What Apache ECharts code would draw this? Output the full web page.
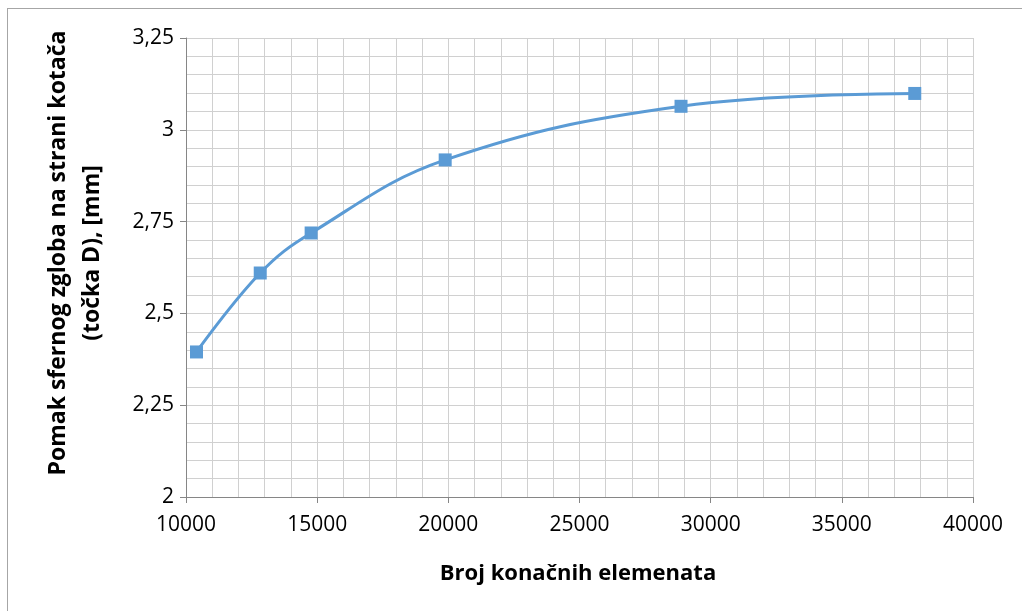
<!DOCTYPE html>
<html>
<head>
<meta charset="utf-8">
<script src="https://cdn.jsdelivr.net/npm/echarts@6/dist/echarts.min.js"></script>
<style>
html,body{margin:0;padding:0;background:#fff;}
#frame{position:absolute;left:7px;top:8px;right:-2px;bottom:-2px;border-left:1px solid #a6a6a6;border-top:1px solid #a6a6a6;}
#c{position:absolute;left:0;top:0;width:1022px;height:611px;}
</style>
</head>
<body>
<div id="frame"></div>
<div id="c"></div>
<script>
const elementCounts = [10400, 12830, 14770, 19880, 28870, 37780];
const displacement = [2.395, 2.610, 2.719, 2.918, 3.064, 3.099];
const xTitle = 'Broj konačnih elemenata';
const yTitleLines = ['Pomak sfernog zgloba na strani kotača', '(točka D), [mm]'];

const chart = echarts.init(document.getElementById('c'));
const gridGray = '#d0d0d0';
const axisGray = '#868686';
const fontFam = '"Open Sans", "Liberation Sans", sans-serif';

chart.setOption({
  animation: false,
  backgroundColor: 'transparent',
  grid: {left: 186, right: 49, top: 38, bottom: 114},
  xAxis: {
    type: 'value', min: 10000, max: 40000, interval: 5000,
    axisLine: {show: true, onZero: false, lineStyle: {color: axisGray, width: 1}},
    axisTick: {show: true, length: 6, lineStyle: {color: axisGray}},
    axisLabel: {color: '#000', fontSize: 21, fontFamily: fontFam, margin: 18,
      formatter: v => String(v)},
    splitLine: {show: true, lineStyle: {color: gridGray, width: 1}},
    minorTick: {show: false, splitNumber: 5},
    minorSplitLine: {show: true, lineStyle: {color: gridGray, width: 1}}
  },
  yAxis: {
    type: 'value', min: 2, max: 3.25, interval: 0.25,
    axisLine: {show: true, onZero: false, lineStyle: {color: axisGray, width: 1}},
    axisTick: {show: true, length: 6, lineStyle: {color: axisGray}},
    axisLabel: {color: '#000', fontSize: 21, fontFamily: fontFam, margin: 12,
      formatter: v => String(+v.toFixed(2)).replace('.', ',')},
    splitLine: {show: true, lineStyle: {color: gridGray, width: 1}},
    minorTick: {show: false, splitNumber: 5},
    minorSplitLine: {show: true, lineStyle: {color: gridGray, width: 1}}
  },
  graphic: [
    {type: 'text', x: 578, y: 574,
      style: {text: xTitle, font: 'bold 22px ' + fontFam, fill: '#000', align: 'center', verticalAlign: 'middle'}},
    {type: 'text', x: 58, y: 253, rotation: Math.PI / 2,
      style: {text: yTitleLines[0], font: 'bold 23px ' + fontFam, fill: '#000', align: 'center', verticalAlign: 'middle'}},
    {type: 'text', x: 92, y: 253, rotation: Math.PI / 2,
      style: {text: yTitleLines[1], font: 'bold 23px ' + fontFam, fill: '#000', align: 'center', verticalAlign: 'middle'}}
  ],
  series: [{
    type: 'line',
    data: elementCounts.map((x, i) => [x, displacement[i]]),
    smooth: 0.4,
    symbol: 'rect', symbolSize: 13,
    lineStyle: {color: '#5b9bd5', width: 3},
    itemStyle: {color: '#5b9bd5'}
  }]
});
</script>
</body>
</html>
